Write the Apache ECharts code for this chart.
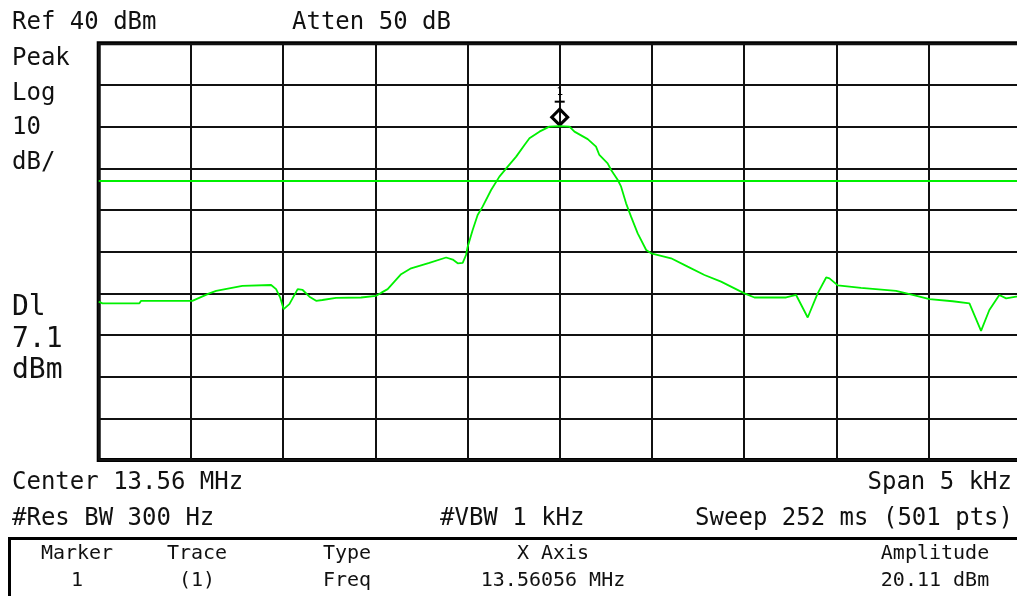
<!DOCTYPE html>
<html>
<head>
<meta charset="utf-8">
<script src="https://cdn.jsdelivr.net/npm/echarts@6/dist/echarts.min.js"></script>
<style>
html,body{margin:0;padding:0;background:#fff;overflow:hidden;width:1017px;height:596px;}
#chart{width:1022px;height:596px;}
</style>
</head>
<body>
<div id="chart"></div>
<script>
// Frequency offset from center (kHz) and trace level (dBm)
const freqOffsetKHz = [
 -2.500,-2.480,-2.279,-2.270,-1.992,-1.900,-1.863,-1.721,-1.565,-1.538,
 -1.515,-1.497,-1.466,-1.421,-1.394,-1.357,-1.321,-1.287,-1.213,-1.077,
 -1.068,-0.996,-0.969,-0.933,-0.860,-0.806,-0.707,-0.616,-0.580,-0.553,
 -0.526,-0.508,-0.499,-0.472,-0.445,-0.418,-0.372,-0.327,-0.282,-0.236,
 -0.191,-0.164,-0.110,-0.056, 0.000, 0.053, 0.080, 0.152, 0.197, 0.215,
  0.260, 0.279, 0.315, 0.333, 0.360, 0.387, 0.423, 0.469, 0.496, 0.504,
  0.604, 0.694, 0.785, 0.875, 1.002, 1.056, 1.228, 1.282, 1.345, 1.399,
  1.445, 1.463, 1.508, 1.634, 1.824, 1.914, 2.005, 2.131, 2.222, 2.285,
  2.330, 2.384, 2.421, 2.475, 2.500
];
const levelDbm = [
 -22.0,-22.4,-22.4,-21.8,-21.8,-20.0,-19.4,-18.2,-18.0,-19.0,
 -21.1,-23.8,-22.6,-19.0,-19.2,-20.8,-21.8,-21.6,-21.1,-21.0,
 -21.4,-20.6,-19.9,-19.0,-15.4,-14.0,-12.7,-11.4,-11.9,-12.8,
 -12.7,-10.8, -8.8, -4.8, -1.2,  0.8,  4.8,  8.0, 10.4, 12.8,
  15.6, 17.2, 18.8, 20.0, 20.11, 20.0, 18.8, 17.0, 15.2, 13.2,
  11.2,  9.6,  7.2,  5.6,  1.6, -1.6, -5.6, -9.6,-10.4,-10.8,
 -11.6,-13.6,-15.6,-17.2,-20.0,-21.0,-21.0,-20.4,-25.8,-20.0,
 -16.2,-16.4,-18.1,-18.7,-19.4,-20.4,-21.4,-21.9,-22.4,-29.0,
 -24.0,-20.4,-21.2,-20.8,-20.8
];
const refLevel = 40;
const dbPerDiv = 10;
const displayLine = 7.1;
const markerPos = [0, 20.11];

const headerTexts = {
  ref: 'Ref 40 dBm', atten: 'Atten 50 dB',
  side1: ['Peak','Log','10','dB/'], side2: ['Dl','7.1','dBm'],
  center: 'Center 13.56 MHz', span: 'Span 5 kHz',
  rbw: '#Res BW 300 Hz', vbw: '#VBW 1 kHz', sweep: 'Sweep 252 ms (501 pts)'
};
const tableHead = ['Marker','Trace','Type','X Axis','Amplitude'];
const tableRow  = ['1','(1)','Freq','13.56056 MHz','20.11 dBm'];

const traceData = freqOffsetKHz.map((f,i)=>[f, levelDbm[i]]);

const FONT = '"DejaVu Sans Mono", monospace';
function txt(t, x, y, size, align){
  return {type:'text', x:x, y:y, z:100,
    style:{text:t, font: size+'px '+FONT, fill:'#111',
      align: align||'left', verticalAlign:'middle',
      textAlign: align||'left', textVerticalAlign:'middle'}};
}
const graphics = [];
graphics.push(txt(headerTexts.ref, 12, 23, 24));
graphics.push(txt(headerTexts.atten, 292, 23, 24));
const side1Y = [58.5, 94, 128, 162.5];
headerTexts.side1.forEach((t,i)=>graphics.push(txt(t, 12, side1Y[i], 24)));
const side2Y = [307.5, 340, 371];
headerTexts.side2.forEach((t,i)=>graphics.push(txt(t, 12, side2Y[i], 28)));
graphics.push(txt(headerTexts.center, 12, 483, 24));
graphics.push(txt(headerTexts.span, 1012, 483, 24, 'right'));
graphics.push(txt(headerTexts.rbw, 12, 519, 24));
graphics.push(txt(headerTexts.vbw, 440, 519, 24));
graphics.push(txt(headerTexts.sweep, 1013, 519, 24, 'right'));
graphics.push({type:'rect', z:90, shape:{x:9.5, y:538.5, width:1030, height:80},
  style:{fill:'none', stroke:'#000', lineWidth:3}});
const colX = [77, 197, 347, 553, 935];
tableHead.forEach((t,i)=>graphics.push(txt(t, colX[i], 554, 20, 'center')));
tableRow.forEach((t,i)=>graphics.push(txt(t, colX[i], 581, 20, 'center')));

const chart = echarts.init(document.getElementById('chart'), null, {renderer:'canvas'});
chart.setOption({
  backgroundColor:'#ffffff',
  animation:false,
  grid:{left:98.7, top:43.3, right:1.3, bottom:136, show:true,
    borderColor:'#000', borderWidth:4, backgroundColor:'transparent'},
  xAxis:{type:'value', min:-2.5, max:2.5, interval:0.5,
    axisLine:{show:false}, axisTick:{show:false}, axisLabel:{show:false},
    splitLine:{show:true, lineStyle:{color:'#111', width:2}}},
  yAxis:{type:'value', min:refLevel-10*dbPerDiv, max:refLevel, interval:dbPerDiv,
    axisLine:{show:false}, axisTick:{show:false}, axisLabel:{show:false},
    splitLine:{show:true, lineStyle:{color:'#111', width:2}}},
  series:[{
    type:'line', data:traceData, showSymbol:false, symbol:'none',
    lineStyle:{color:'#00f000', width:1.8}, z:5,
    markLine:{silent:true, symbol:['none','none'], label:{show:false},
      lineStyle:{color:'#00f000', width:2, type:'solid'},
      data:[{yAxis:displayLine}]},
    markPoint:{silent:true, data:[
      {coord:markerPos, symbol:'diamond', symbolSize:[16,16], symbolOffset:[0,-9],
        itemStyle:{color:'rgba(0,0,0,0)', borderColor:'#000', borderWidth:3},
        label:{show:true, formatter:'1', position:'top', distance:10, fontSize:11, color:'#000', fontFamily:FONT}},
      {coord:markerPos, symbol:'rect', symbolSize:[10,2], symbolOffset:[0,-24.5],
        itemStyle:{color:'#000'}, label:{show:false}}
    ]}
  }],
  graphic: graphics
});
</script>
</body>
</html>
